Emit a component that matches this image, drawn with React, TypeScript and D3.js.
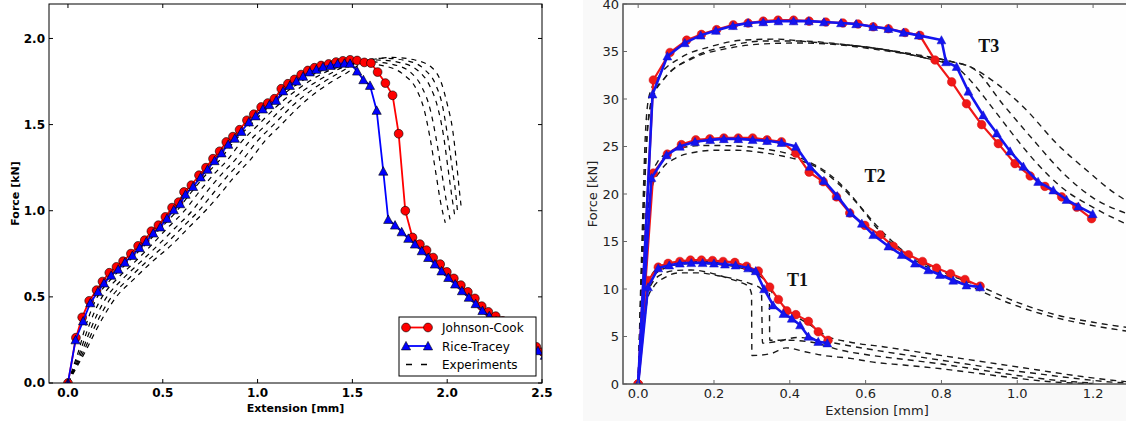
import React from 'react';
import * as d3 from 'd3';

type P = [number, number];

// ---------------- Left chart data (Extension [mm], Force [kN]) ----------------
const leftXTicks = [0, 0.5, 1.0, 1.5, 2.0, 2.5];
const leftYTicks = [0, 0.5, 1.0, 1.5, 2.0];

const johnsonCook: P[] = [
  [0, 0], [0.042, 0.263], [0.075, 0.381], [0.112, 0.477], [0.151, 0.539], [0.182, 0.589],
  [0.218, 0.64], [0.256, 0.674], [0.291, 0.707], [0.332, 0.751], [0.37, 0.796], [0.405, 0.829],
  [0.44, 0.881], [0.477, 0.916], [0.514, 0.964], [0.549, 1.018], [0.584, 1.05], [0.612, 1.109],
  [0.651, 1.148], [0.691, 1.206], [0.728, 1.25], [0.765, 1.302], [0.8, 1.345], [0.835, 1.399],
  [0.87, 1.43], [0.905, 1.47], [0.944, 1.525], [0.98, 1.56], [1.019, 1.602], [1.054, 1.625],
  [1.089, 1.65], [1.125, 1.708], [1.16, 1.737], [1.195, 1.762], [1.23, 1.79], [1.265, 1.814],
  [1.3, 1.83], [1.335, 1.843], [1.375, 1.852], [1.414, 1.863], [1.45, 1.87], [1.488, 1.876],
  [1.525, 1.872], [1.563, 1.861], [1.598, 1.857], [1.633, 1.805], [1.674, 1.741], [1.712, 1.67],
  [1.744, 1.447], [1.779, 1.0], [1.817, 0.845], [1.856, 0.806], [1.891, 0.771], [1.926, 0.728],
  [1.963, 0.69], [1.998, 0.645], [2.035, 0.607], [2.072, 0.568], [2.109, 0.529], [2.146, 0.491],
  [2.182, 0.446], [2.217, 0.413], [2.256, 0.388], [2.292, 0.36], [2.33, 0.33], [2.365, 0.3],
  [2.4, 0.27], [2.435, 0.24], [2.47, 0.21], [2.505, 0.18],
];

const riceTracey: P[] = [
  [0, 0], [0.04, 0.25], [0.08, 0.36], [0.118, 0.465], [0.158, 0.53], [0.19, 0.58],
  [0.228, 0.625], [0.265, 0.66], [0.3, 0.7], [0.34, 0.74], [0.378, 0.785], [0.413, 0.82],
  [0.45, 0.87], [0.487, 0.905], [0.522, 0.955], [0.558, 1.005], [0.592, 1.04], [0.62, 1.095],
  [0.66, 1.14], [0.7, 1.195], [0.736, 1.24], [0.773, 1.29], [0.81, 1.335], [0.845, 1.385],
  [0.88, 1.42], [0.915, 1.46], [0.954, 1.515], [0.99, 1.55], [1.028, 1.59], [1.062, 1.615],
  [1.098, 1.64], [1.135, 1.695], [1.17, 1.727], [1.205, 1.752], [1.24, 1.78], [1.275, 1.805],
  [1.31, 1.82], [1.345, 1.835], [1.385, 1.843], [1.422, 1.853], [1.458, 1.856], [1.488, 1.855],
  [1.525, 1.81], [1.558, 1.76], [1.593, 1.727], [1.628, 1.582], [1.663, 1.229], [1.689, 0.949],
  [1.725, 0.916], [1.76, 0.877], [1.795, 0.839], [1.83, 0.806], [1.866, 0.767], [1.9, 0.728],
  [1.935, 0.69], [1.97, 0.65], [2.006, 0.612], [2.042, 0.574], [2.078, 0.535], [2.114, 0.497],
  [2.15, 0.46], [2.186, 0.42], [2.222, 0.39], [2.258, 0.36], [2.294, 0.33], [2.33, 0.3],
  [2.366, 0.275], [2.402, 0.25], [2.438, 0.22], [2.479, 0.187], [2.515, 0.16],
];

const experiment1: P[] = [
  [0, 0], [0.03, 0.1], [0.06, 0.2], [0.085, 0.3], [0.115, 0.4], [0.155, 0.5], [0.225, 0.6],
  [0.315, 0.7], [0.405, 0.8], [0.49, 0.9], [0.575, 1.0], [0.645, 1.1], [0.72, 1.2], [0.805, 1.3],
  [0.875, 1.4], [0.965, 1.5], [1.055, 1.6], [1.165, 1.7], [1.31, 1.8], [1.42, 1.84], [1.55, 1.855],
  [1.67, 1.84], [1.77, 1.79], [1.84, 1.7], [1.88, 1.58], [1.91, 1.42], [1.94, 1.22], [1.965, 1.05],
  [1.99, 0.93],
];
const experiment2: P[] = [
  [0, 0], [0.035, 0.1], [0.07, 0.2], [0.1, 0.3], [0.135, 0.4], [0.18, 0.5], [0.255, 0.6],
  [0.35, 0.7], [0.44, 0.8], [0.525, 0.9], [0.615, 1.0], [0.685, 1.1], [0.76, 1.2], [0.845, 1.3],
  [0.915, 1.4], [1.005, 1.5], [1.095, 1.6], [1.205, 1.7], [1.35, 1.8], [1.46, 1.845], [1.59, 1.865],
  [1.71, 1.85], [1.81, 1.8], [1.87, 1.71], [1.91, 1.59], [1.94, 1.43], [1.97, 1.23], [1.995, 1.06],
  [2.015, 0.95],
];
const experiment3: P[] = [
  [0, 0], [0.04, 0.1], [0.08, 0.2], [0.115, 0.3], [0.155, 0.4], [0.205, 0.5], [0.285, 0.6],
  [0.38, 0.7], [0.475, 0.8], [0.565, 0.9], [0.655, 1.0], [0.725, 1.1], [0.8, 1.2], [0.885, 1.3],
  [0.955, 1.4], [1.045, 1.5], [1.135, 1.6], [1.245, 1.7], [1.39, 1.8], [1.5, 1.855], [1.63, 1.875],
  [1.75, 1.86], [1.85, 1.81], [1.91, 1.72], [1.95, 1.6], [1.98, 1.44], [2.005, 1.24], [2.025, 1.08],
  [2.04, 0.97],
];
const experiment4: P[] = [
  [0, 0], [0.045, 0.1], [0.09, 0.2], [0.13, 0.3], [0.175, 0.4], [0.23, 0.5], [0.315, 0.6],
  [0.41, 0.7], [0.51, 0.8], [0.6, 0.9], [0.69, 1.0], [0.765, 1.1], [0.84, 1.2], [0.925, 1.3],
  [0.995, 1.4], [1.085, 1.5], [1.175, 1.6], [1.285, 1.7], [1.43, 1.8], [1.54, 1.865], [1.67, 1.885],
  [1.79, 1.87], [1.88, 1.82], [1.94, 1.73], [1.975, 1.61], [2.0, 1.45], [2.025, 1.26], [2.045, 1.1],
  [2.055, 0.99],
];
const experiment5: P[] = [
  [0, 0], [0.05, 0.1], [0.1, 0.2], [0.145, 0.3], [0.195, 0.4], [0.255, 0.5], [0.345, 0.6],
  [0.44, 0.7], [0.545, 0.8], [0.635, 0.9], [0.725, 1.0], [0.805, 1.1], [0.88, 1.2], [0.965, 1.3],
  [1.035, 1.4], [1.125, 1.5], [1.215, 1.6], [1.325, 1.7], [1.47, 1.8], [1.58, 1.87], [1.71, 1.89],
  [1.83, 1.875], [1.92, 1.83], [1.97, 1.74], [2.0, 1.62], [2.03, 1.46], [2.05, 1.27], [2.065, 1.11],
  [2.075, 1.01],
];
const leftExperiments = [experiment1, experiment2, experiment3, experiment4, experiment5];
const legendLabels = ['Johnson-Cook', 'Rice-Tracey', 'Experiments'];

// ---------------- Right chart data ----------------
const rightXTicks = [0, 0.2, 0.4, 0.6, 0.8, 1.0, 1.2];
const rightYTicks = [0, 5, 10, 15, 20, 25, 30, 35, 40];
const groupLabels = ['T1', 'T2', 'T3'];

const t1JC: P[] = [
  [0, 0], [0.026, 10.9], [0.053, 12.3], [0.079, 12.7], [0.11, 12.9], [0.138, 13.05], [0.167, 13.05],
  [0.196, 13.0], [0.224, 12.9], [0.255, 12.8], [0.286, 12.4], [0.317, 11.9], [0.347, 10.2],
  [0.37, 8.9], [0.392, 7.7], [0.416, 7.3], [0.449, 6.6], [0.475, 5.5], [0.501, 4.6],
];
const t1RT: P[] = [
  [0, 0], [0.026, 10.2], [0.053, 12.2], [0.082, 12.5], [0.11, 12.7], [0.14, 12.75], [0.17, 12.75],
  [0.2, 12.7], [0.229, 12.6], [0.257, 12.5], [0.29, 12.2], [0.31, 11.9], [0.332, 10.0],
  [0.356, 8.3], [0.383, 7.4], [0.405, 6.9], [0.427, 6.2], [0.449, 5.0], [0.475, 4.45], [0.499, 4.3],
];
const t2JC: P[] = [
  [0, 0], [0.04, 22.2], [0.077, 24.2], [0.114, 25.2], [0.152, 25.7], [0.189, 25.8], [0.226, 25.9],
  [0.264, 25.9], [0.302, 25.9], [0.34, 25.7], [0.378, 25.5], [0.416, 24.3], [0.451, 22.3],
  [0.488, 21.3], [0.523, 19.7], [0.558, 18.0], [0.598, 16.7], [0.638, 15.7], [0.673, 14.5],
  [0.713, 13.6], [0.75, 12.9], [0.787, 12.2], [0.824, 11.6], [0.862, 11.0], [0.902, 10.3],
];
const t2RT: P[] = [
  [0, 0], [0.035, 21.7], [0.075, 24.1], [0.11, 25.0], [0.15, 25.5], [0.19, 25.7], [0.226, 25.8],
  [0.264, 25.8], [0.302, 25.7], [0.34, 25.6], [0.378, 25.4], [0.416, 25.0], [0.453, 22.9],
  [0.49, 21.4], [0.525, 19.8], [0.56, 18.0], [0.59, 16.9], [0.62, 15.7], [0.66, 14.5],
  [0.695, 13.6], [0.73, 12.7], [0.765, 12.0], [0.796, 11.5], [0.831, 10.9], [0.866, 10.4], [0.902, 10.2],
];
const t3JC: P[] = [
  [0, 0], [0.04, 32.0], [0.084, 34.9], [0.128, 36.2], [0.167, 36.8], [0.207, 37.3], [0.251, 37.8],
  [0.29, 38.0], [0.33, 38.2], [0.369, 38.3], [0.41, 38.3], [0.451, 38.2], [0.495, 38.1],
  [0.54, 38.0], [0.58, 37.9], [0.62, 37.6], [0.66, 37.4], [0.704, 37.0], [0.743, 36.7],
  [0.783, 34.1], [0.827, 31.8], [0.866, 29.5], [0.906, 27.3], [0.95, 25.3], [0.994, 23.2],
  [1.034, 21.9], [1.073, 20.8], [1.117, 19.7], [1.157, 18.6], [1.196, 17.4],
];
const t3RT: P[] = [
  [0, 0], [0.038, 30.5], [0.077, 34.5], [0.123, 35.9], [0.165, 36.7], [0.205, 37.2], [0.25, 37.7],
  [0.29, 38.0], [0.33, 38.1], [0.37, 38.2], [0.41, 38.2], [0.45, 38.2], [0.49, 38.1], [0.535, 38.0],
  [0.575, 37.9], [0.62, 37.6], [0.66, 37.4], [0.7, 37.0], [0.74, 36.7], [0.8, 36.2], [0.812, 33.9],
  [0.84, 33.4], [0.871, 30.8], [0.91, 28.3], [0.946, 26.4], [0.981, 24.5], [1.016, 22.9],
  [1.055, 21.3], [1.095, 20.4], [1.13, 19.4], [1.161, 18.7], [1.199, 17.9],
];

const t1Exp1: P[] = [
  [0, 0], [0.012, 6], [0.02, 9], [0.035, 10.5], [0.06, 11.5], [0.1, 11.95], [0.14, 12.0], [0.19, 11.7],
  [0.24, 11.1], [0.27, 10.7], [0.29, 10.3], [0.299, 9.5], [0.3, 3.0], [0.35, 3.2], [0.39, 3.8],
  [0.44, 3.4], [0.49, 3.0], [0.56, 2.7], [0.62, 2.3], [0.7, 2.0], [0.8, 1.6], [0.9, 1.1], [1.0, 0.6],
  [1.1, 0.2], [1.2, 0.05],
];
const t1Exp2: P[] = [
  [0, 0], [0.015, 6], [0.025, 9], [0.04, 10.2], [0.07, 11.2], [0.11, 11.7], [0.16, 11.7], [0.21, 11.4],
  [0.26, 11.0], [0.3, 10.5], [0.325, 10.0], [0.328, 4.3], [0.37, 4.5], [0.42, 4.9], [0.49, 4.5],
  [0.56, 4.0], [0.65, 3.4], [0.75, 2.8], [0.85, 2.2], [0.95, 1.6], [1.05, 1.1], [1.15, 0.6],
  [1.25, 0.2], [1.3, 0.1],
];
const t1Exp3: P[] = [
  [0, 0], [0.013, 6], [0.022, 9.5], [0.04, 11.3], [0.07, 12.2], [0.11, 12.6], [0.16, 12.7],
  [0.21, 12.6], [0.26, 12.3], [0.31, 11.6], [0.34, 10.6], [0.346, 9.8], [0.347, 4.6], [0.4, 4.6],
  [0.47, 4.3], [0.53, 3.6], [0.6, 3.1], [0.7, 2.6], [0.8, 2.1], [0.9, 1.5], [1.0, 0.9], [1.1, 0.4],
  [1.2, 0.1],
];
const t1Exp4: P[] = [
  [0, 0], [0.014, 6], [0.024, 10], [0.045, 12.0], [0.08, 12.7], [0.12, 12.9], [0.17, 12.9],
  [0.22, 12.7], [0.27, 12.3], [0.32, 11.7], [0.35, 9.8], [0.4, 7.6], [0.45, 6.3], [0.5, 5.0],
  [0.56, 4.4], [0.65, 3.9], [0.75, 3.3], [0.85, 2.7], [0.95, 2.1], [1.05, 1.5], [1.15, 0.9],
  [1.25, 0.4], [1.3, 0.2],
];
const t2Exp1: P[] = [
  [0, 0], [0.012, 12], [0.02, 18], [0.03, 21.5], [0.05, 23.3], [0.08, 24.4], [0.12, 24.9], [0.17, 25.1],
  [0.22, 25.1], [0.28, 25.0], [0.34, 24.7], [0.4, 24.2], [0.45, 23.4], [0.5, 22.2], [0.55, 20.4],
  [0.6, 18.0], [0.65, 15.8], [0.7, 14.0], [0.76, 12.6], [0.82, 11.5], [0.9, 10.3], [1.0, 8.6],
  [1.1, 7.3], [1.2, 6.5], [1.3, 5.9],
];
const t2Exp2: P[] = [
  [0, 0], [0.015, 12], [0.025, 18], [0.035, 20.5], [0.06, 22.5], [0.1, 23.8], [0.15, 24.4], [0.2, 24.6],
  [0.26, 24.6], [0.32, 24.4], [0.38, 24.0], [0.43, 23.5], [0.48, 22.6], [0.53, 21.0], [0.58, 18.9],
  [0.63, 16.4], [0.68, 14.4], [0.74, 12.8], [0.8, 11.6], [0.88, 10.2], [0.98, 8.5], [1.08, 7.2],
  [1.18, 6.3], [1.3, 5.5],
];
const t3Exp1: P[] = [
  [0, 0], [0.01, 15], [0.02, 27], [0.03, 30.5], [0.057, 32.5], [0.11, 34.3], [0.19, 35.5],
  [0.276, 36.2], [0.365, 36.3], [0.453, 36.0], [0.55, 35.7], [0.65, 35.2], [0.77, 34.2],
  [0.83, 33.6], [0.88, 31.8], [0.93, 29.3], [0.99, 26.2], [1.05, 23.3], [1.12, 20.6], [1.2, 18.6],
  [1.3, 16.6],
];
const t3Exp2: P[] = [
  [0, 0], [0.012, 15], [0.025, 27], [0.04, 30.2], [0.066, 32.0], [0.145, 34.3], [0.233, 35.3],
  [0.33, 35.8], [0.43, 35.9], [0.53, 35.7], [0.63, 35.2], [0.73, 34.6], [0.83, 33.9], [0.884, 33.2],
  [0.963, 29.4], [1.042, 25.7], [1.121, 22.2], [1.2, 19.6], [1.3, 17.8],
];
const t3Exp3: P[] = [
  [0, 0], [0.012, 15], [0.025, 27], [0.04, 30.5], [0.07, 32.2], [0.15, 34.5], [0.24, 35.6],
  [0.33, 36.1], [0.43, 36.1], [0.53, 35.8], [0.63, 35.3], [0.73, 34.7], [0.82, 34.0], [0.875, 33.4],
  [0.946, 31.6], [1.025, 28.8], [1.104, 25.3], [1.183, 22.5], [1.253, 20.2], [1.3, 19.0],
];
const rightExperiments = [t1Exp1, t1Exp2, t1Exp3, t1Exp4, t2Exp1, t2Exp2, t3Exp1, t3Exp2, t3Exp3];
const rightJC = [t1JC, t2JC, t3JC];
const rightRT = [t1RT, t2RT, t3RT];
const groupLabelPos: P[] = [[0.42, 10.3], [0.625, 21.3], [0.925, 35.0]];

// ---------------- layout ----------------
const W = 1126;
const H = 421;

const lx = d3.scaleLinear().domain([-0.1, 2.5]).range([49, 542]);
const ly = d3.scaleLinear().domain([0, 2.2]).range([383, 4]);
const rx = d3.scaleLinear().domain([-0.04, 1.3]).range([623, 1131]);
const ry = d3.scaleLinear().domain([0, 40]).range([384, 4]);

const tri = (h: number) => `M0,${-h}L${h},${h * 0.85}L${-h},${h * 0.85}Z`;

function Markers({ data, sx, sy, kind, fill, stroke, sw, size }: any) {
  return (
    <g>
      {data.map((d: P, i: number) =>
        kind === 'circle' ? (
          <circle key={i} cx={sx(d[0])} cy={sy(d[1])} r={size} fill={fill} stroke={stroke} strokeWidth={sw} />
        ) : (
          <path key={i} d={tri(size)} transform={`translate(${sx(d[0])},${sy(d[1])})`} fill={fill} stroke={stroke} strokeWidth={sw} />
        )
      )}
    </g>
  );
}

export default function App() {
  const lineL = d3.line<P>().x((d) => lx(d[0])).y((d) => ly(d[1]));
  const lineLSmooth = d3.line<P>().x((d) => lx(d[0])).y((d) => ly(d[1])).curve(d3.curveMonotoneX);
  const lineR = d3.line<P>().x((d) => rx(d[0])).y((d) => ry(d[1]));
  const lineRSmooth = d3.line<P>().x((d) => rx(d[0])).y((d) => ry(d[1])).curve(d3.curveMonotoneX);

  const [lx0, lx1] = lx.range();
  const [ly0, ly1] = [ly.range()[1], ly.range()[0]];
  const [rx0, rx1] = rx.range();
  const [ry0, ry1] = [ry.range()[1], ry.range()[0]];

  const boldFont = "'DejaVu Sans', Verdana, sans-serif";
  const leg = { x: 399, y: 317, w: 137, h: 59 };
  const solidPart = t3Exp1.filter((d) => d[0] >= 0.53 && d[0] <= 0.83);

  return (
    <svg width={W} height={H} viewBox={`0 0 ${W} ${H}`} style={{ position: 'absolute', left: 0, top: 0, background: '#fff' }}>
      <defs>
        <clipPath id="clipL"><rect x={lx0} y={ly0} width={lx1 - lx0} height={ly1 - ly0} /></clipPath>
        <clipPath id="clipR"><rect x={rx0} y={ry0} width={rx1 - rx0} height={ry1 - ry0} /></clipPath>
      </defs>
      <rect x={0} y={0} width={W} height={H} fill="#fff" />

      {/* ================= LEFT PANEL ================= */}
      <g clipPath="url(#clipL)">
        {leftExperiments.map((e, i) => (
          <path key={i} d={lineLSmooth(e) || ''} fill="none" stroke="#000" strokeWidth={1.2} strokeDasharray="5,5" />
        ))}
        <path d={lineL(johnsonCook) || ''} fill="none" stroke="#ff0000" strokeWidth={1.8} />
        <Markers data={johnsonCook} sx={lx} sy={ly} kind="circle" fill="#ff0000" stroke="#000" sw={0.6} size={4.4} />
        <path d={lineL(riceTracey) || ''} fill="none" stroke="#0000ff" strokeWidth={1.8} />
        <Markers data={riceTracey} sx={lx} sy={ly} kind="tri" fill="#0000ff" stroke="#000" sw={0.6} size={4.6} />
      </g>
      {/* spines & ticks */}
      <rect x={lx0} y={ly0} width={lx1 - lx0} height={ly1 - ly0} fill="none" stroke="#000" strokeWidth={1} />
      {leftXTicks.map((t) => (
        <g key={'lx' + t}>
          <line x1={lx(t)} x2={lx(t)} y1={ly1} y2={ly1 - 4} stroke="#000" />
          <line x1={lx(t)} x2={lx(t)} y1={ly0} y2={ly0 + 4} stroke="#000" />
          <text x={lx(t)} y={397} textAnchor="middle" fontFamily={boldFont} fontWeight="bold" fontSize={12} fill="#000">
            {t.toFixed(1)}
          </text>
        </g>
      ))}
      {leftYTicks.map((t) => (
        <g key={'ly' + t}>
          <line x1={lx0} x2={lx0 + 4} y1={ly(t)} y2={ly(t)} stroke="#000" />
          <line x1={lx1} x2={lx1 - 4} y1={ly(t)} y2={ly(t)} stroke="#000" />
          <text x={45} y={ly(t) + 4.3} textAnchor="end" fontFamily={boldFont} fontWeight="bold" fontSize={12} fill="#000">
            {t.toFixed(1)}
          </text>
        </g>
      ))}
      <text x={(lx0 + lx1) / 2} y={412} textAnchor="middle" fontFamily={boldFont} fontWeight="bold" fontSize={11} fill="#000">
        Extension [mm]
      </text>
      <text transform={`translate(19,${(ly0 + ly1) / 2}) rotate(-90)`} textAnchor="middle" fontFamily={boldFont} fontWeight="bold" fontSize={11} fill="#000">
        Force [kN]
      </text>
      {/* legend */}
      <rect x={leg.x} y={leg.y} width={leg.w} height={leg.h} fill="#fff" stroke="#000" strokeWidth={1} />
      {legendLabels.map((lab, i) => {
        const yy = 327.5 + i * 18.5;
        return (
          <g key={lab}>
            {i === 0 && (
              <g>
                <line x1={406} x2={428} y1={yy} y2={yy} stroke="#ff0000" strokeWidth={1.8} />
                <circle cx={406} cy={yy} r={4.4} fill="#ff0000" stroke="#000" strokeWidth={0.6} />
                <circle cx={428} cy={yy} r={4.4} fill="#ff0000" stroke="#000" strokeWidth={0.6} />
              </g>
            )}
            {i === 1 && (
              <g>
                <line x1={406} x2={428} y1={yy} y2={yy} stroke="#0000ff" strokeWidth={1.8} />
                <path d={tri(4.6)} transform={`translate(406,${yy})`} fill="#0000ff" stroke="#000" strokeWidth={0.6} />
                <path d={tri(4.6)} transform={`translate(428,${yy})`} fill="#0000ff" stroke="#000" strokeWidth={0.6} />
              </g>
            )}
            {i === 2 && (
              <line x1={406} x2={429} y1={yy} y2={yy} stroke="#000" strokeWidth={1.3} strokeDasharray="6,9" />
            )}
            <text x={442} y={yy + 4.5} fontFamily={boldFont} fontSize={12} fill="#000">
              {lab}
            </text>
          </g>
        );
      })}

      {/* ================= RIGHT PANEL ================= */}
      <rect x={583} y={0} width={W - 583} height={H} fill="#f9f9f9" />
      <rect x={rx0} y={ry0} width={rx1 - rx0} height={ry1 - ry0} fill="#fefefe" />
      <g clipPath="url(#clipR)">
        {rightExperiments.map((e, i) => (
          <path key={i} d={lineRSmooth(e) || ''} fill="none" stroke="#1a1a1a" strokeWidth={1.4} strokeDasharray="6,5" />
        ))}
        <path d={lineRSmooth(solidPart) || ''} fill="none" stroke="#1a1a1a" strokeWidth={1.1} />
        {rightJC.map((s, i) => (
          <g key={'jc' + i}>
            <path d={lineR(s) || ''} fill="none" stroke="#f01818" strokeWidth={2.2} />
            <Markers data={s} sx={rx} sy={ry} kind="circle" fill="#f01818" stroke="#d01010" sw={0.5} size={4.3} />
          </g>
        ))}
        {rightRT.map((s, i) => (
          <g key={'rt' + i}>
            <path d={lineR(s) || ''} fill="none" stroke="#1414f0" strokeWidth={2.6} />
            <Markers data={s} sx={rx} sy={ry} kind="tri" fill="#1414f0" stroke="#1010c0" sw={0.5} size={4.4} />
          </g>
        ))}
      </g>
      <rect x={rx0} y={ry0} width={rx1 - rx0} height={ry1 - ry0} fill="none" stroke="#444" strokeWidth={1.4} />
      {rightXTicks.map((t) => (
        <g key={'rx' + t}>
          <line x1={rx(t)} x2={rx(t)} y1={ry1} y2={ry1 - 4} stroke="#666" />
          <line x1={rx(t)} x2={rx(t)} y1={ry0} y2={ry0 + 4} stroke="#666" />
          <text x={rx(t)} y={398} textAnchor="middle" fontFamily={boldFont} fontSize={13} fill="#222">
            {t.toFixed(1)}
          </text>
        </g>
      ))}
      {rightYTicks.map((t) => (
        <g key={'ry' + t}>
          <line x1={rx0} x2={rx0 + 4} y1={ry(t)} y2={ry(t)} stroke="#666" />
          <text x={619} y={ry(t) + 4.7} textAnchor="end" fontFamily={boldFont} fontSize={13} fill="#222">
            {t}
          </text>
        </g>
      ))}
      <text x={(rx0 + rx1) / 2} y={415} textAnchor="middle" fontFamily={boldFont} fontSize={13} fill="#222">
        Extension [mm]
      </text>
      <text transform={`translate(597,${(ry0 + ry1) / 2}) rotate(-90)`} textAnchor="middle" fontFamily={boldFont} fontSize={13} fill="#222">
        Force [kN]
      </text>
      {groupLabels.map((lab, i) => (
        <text key={lab} x={rx(groupLabelPos[i][0])} y={ry(groupLabelPos[i][1])} textAnchor="middle"
          fontFamily="'Liberation Serif', 'Times New Roman', serif" fontWeight="bold" fontSize={18} fill="#111">
          {lab}
        </text>
      ))}
    </svg>
  );
}
